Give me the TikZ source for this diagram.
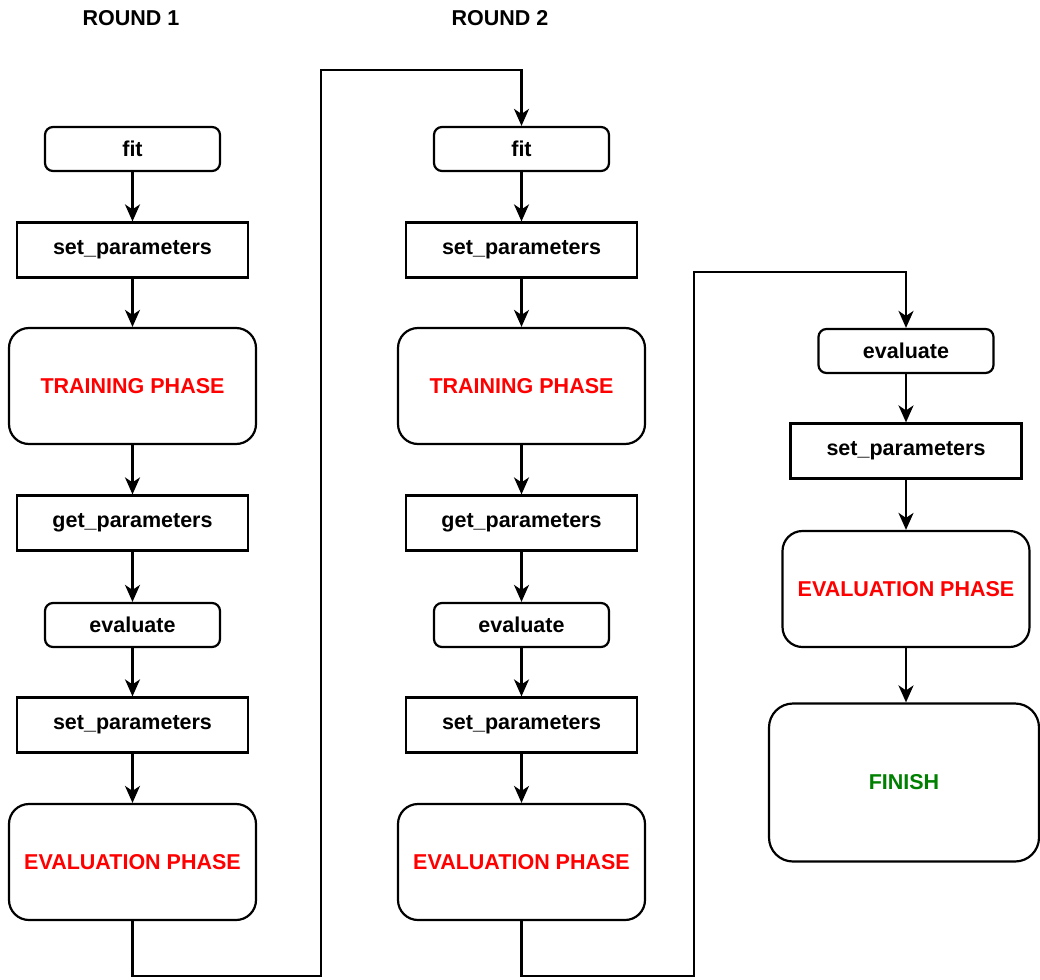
\documentclass[tikz,border=0pt]{standalone}
\usepackage{fontspec}
\setmainfont{Liberation Sans}
\usetikzlibrary{arrows.meta}
\definecolor{finishgreen}{RGB}{0,128,0}
\tikzset{
  lbl/.style={font=\fontsize{21.5}{25}\selectfont\bfseries},
  smallbox/.style={draw, line width=2.2pt, rounded corners=8pt, minimum width=175pt, minimum height=44pt, inner sep=0pt, lbl},
  rectbox/.style={draw, line width=2.2pt, minimum width=231pt, minimum height=55pt, inner sep=0pt, lbl},
  bigbox/.style={draw, line width=2.2pt, rounded corners=20pt, minimum width=247pt, minimum height=116pt, inner sep=0pt, lbl, text=red},
  arr/.style={line width=2.2pt, -{Stealth[length=17pt,width=15pt,inset=5pt]}},
}
\begin{document}
\begin{tikzpicture}[x=1pt,y=-1pt]
\useasboundingbox (0,0) rectangle (1040,979);
% Column 1
\node[lbl] (r1) at (131,18) {ROUND 1};
\node[smallbox] (fit1) at (132.5,149) {fit};
\node[rectbox]  (sp1a) at (132.5,250) {set\_parameters};
\node[bigbox]   (tr1)  at (132.5,386) {TRAINING PHASE};
\node[rectbox]  (gp1)  at (132.5,523) {get\_parameters};
\node[smallbox] (ev1)  at (132.5,625) {evaluate};
\node[rectbox]  (sp1b) at (132.5,725) {set\_parameters};
\node[bigbox]   (ep1)  at (132.5,862) {EVALUATION PHASE};
% Column 2
\node[lbl] (r2) at (500,18) {ROUND 2};
\node[smallbox] (fit2) at (521.5,149) {fit};
\node[rectbox]  (sp2a) at (521.5,250) {set\_parameters};
\node[bigbox]   (tr2)  at (521.5,386) {TRAINING PHASE};
\node[rectbox]  (gp2)  at (521.5,523) {get\_parameters};
\node[smallbox] (ev2)  at (521.5,625) {evaluate};
\node[rectbox]  (sp2b) at (521.5,725) {set\_parameters};
\node[bigbox]   (ep2)  at (521.5,862) {EVALUATION PHASE};
% Column 3
\node[smallbox] (ev3) at (906,351) {evaluate};
\node[rectbox]  (sp3) at (906,451) {set\_parameters};
\node[bigbox]   (ep3) at (906,589) {EVALUATION PHASE};
\node[draw, line width=2.2pt, rounded corners=24pt, minimum width=270pt, minimum height=158pt, inner sep=0pt, lbl, text=finishgreen] (fin) at (904,782.5) {FINISH};
% connectors column 1
\draw[arr] (fit1) -- (sp1a);
\draw[arr] (sp1a) -- (tr1);
\draw[arr] (tr1) -- (gp1);
\draw[arr] (gp1) -- (ev1);
\draw[arr] (ev1) -- (sp1b);
\draw[arr] (sp1b) -- (ep1);
% connectors column 2
\draw[arr] (fit2) -- (sp2a);
\draw[arr] (sp2a) -- (tr2);
\draw[arr] (tr2) -- (gp2);
\draw[arr] (gp2) -- (ev2);
\draw[arr] (ev2) -- (sp2b);
\draw[arr] (sp2b) -- (ep2);
% connectors column 3
\draw[arr] (ev3) -- (sp3);
\draw[arr] (sp3) -- (ep3);
\draw[arr] (ep3.south) -- (ep3.south |- fin.north);
% loop connectors
\coordinate (a1) at (132.5,976);
\coordinate (a2) at (321,976);
\coordinate (a3) at (321,70);
\coordinate (a4) at (521.5,70);
\draw[arr] (ep1.south) -- (a1) -- (a2) -- (a3) -- (a4) -- (fit2.north);
\coordinate (b1) at (521.5,976);
\coordinate (b2) at (694,976);
\coordinate (b3) at (694,272);
\coordinate (b4) at (906,272);
\draw[arr] (ep2.south) -- (b1) -- (b2) -- (b3) -- (b4) -- (ev3.north);
\end{tikzpicture}
\end{document}
